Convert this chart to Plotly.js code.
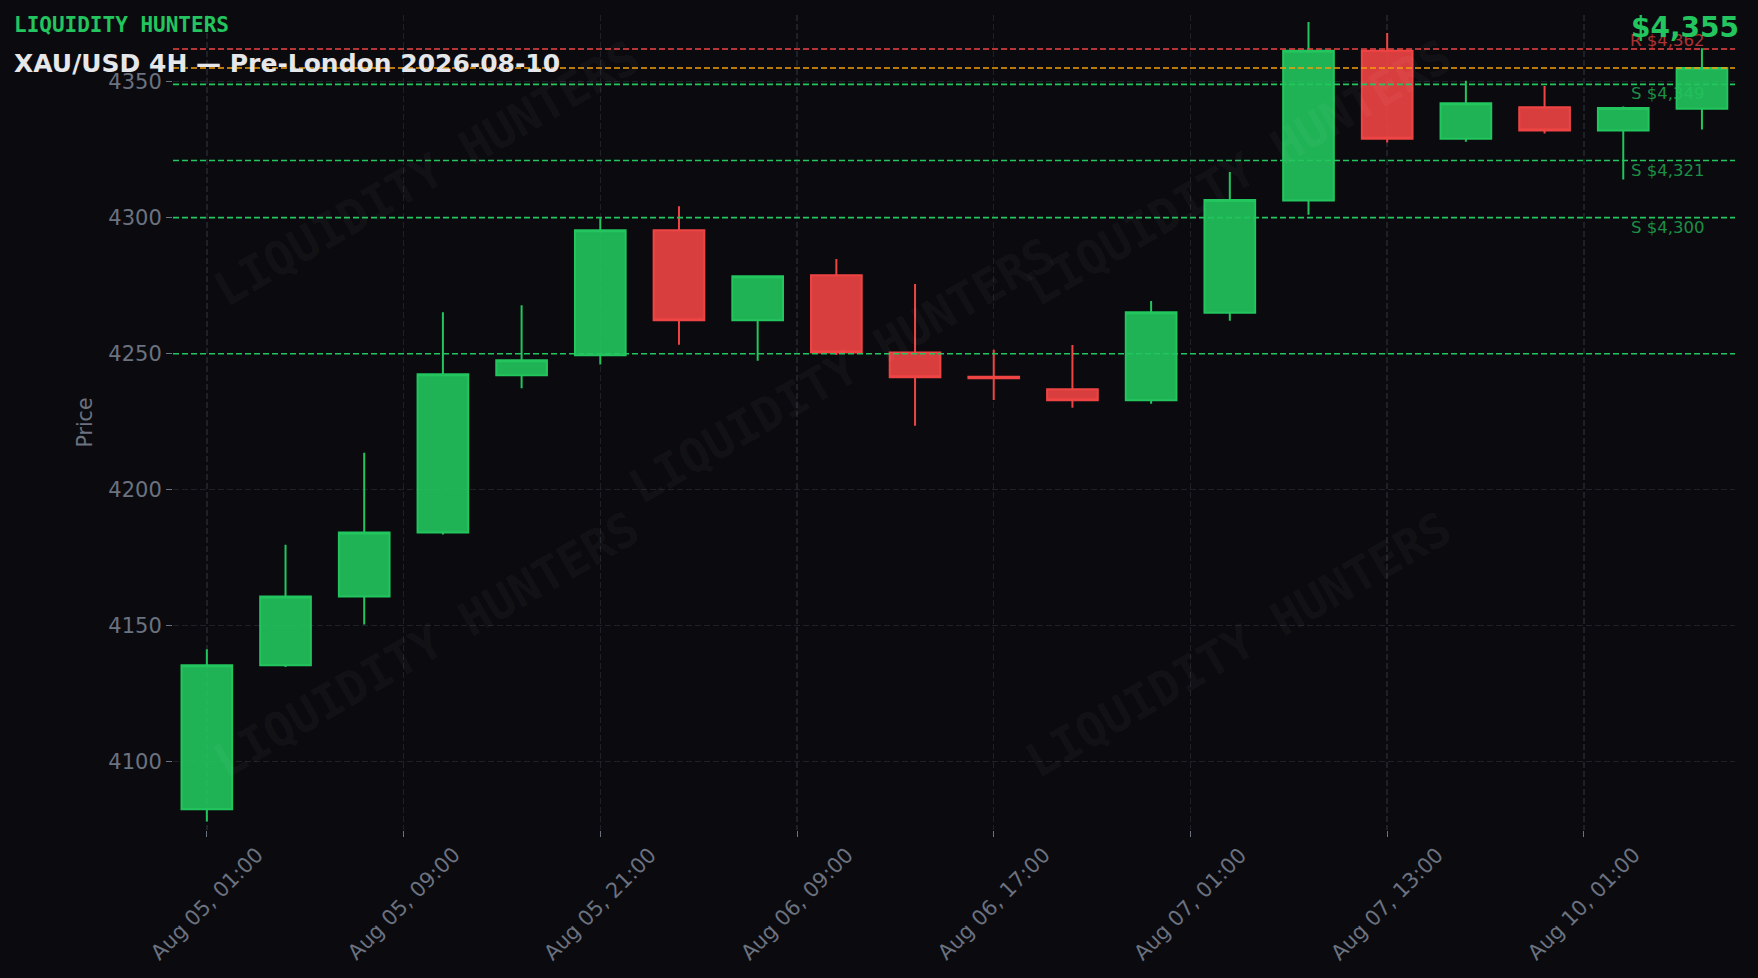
<!DOCTYPE html>
<html>
<head>
<meta charset="utf-8">
<script src="https://cdn.plot.ly/plotly-3.0.1.min.js"></script>
<style>
  html, body { margin: 0; padding: 0; background: #0b0b0f; }
  #chart { width: 1758px; height: 978px; }
</style>
</head>
<body>
<div id="chart"></div>
<script>
// ---- Data ----
const times = [
  "2026-08-05 01:00", "2026-08-05 05:00", "2026-08-05 09:00", "2026-08-05 13:00",
  "2026-08-05 17:00", "2026-08-05 21:00", "2026-08-06 01:00", "2026-08-06 05:00",
  "2026-08-06 09:00", "2026-08-06 13:00", "2026-08-06 17:00", "2026-08-06 21:00",
  "2026-08-07 01:00", "2026-08-07 05:00", "2026-08-07 09:00", "2026-08-07 13:00",
  "2026-08-07 17:00", "2026-08-07 21:00", "2026-08-10 01:00", "2026-08-10 05:00"
];
const openP  = [4082.5, 4135.5, 4160.7, 4184.3, 4242.1, 4249.4, 4295.4, 4262.3, 4278.8, 4250.4,
                4241.5, 4236.9, 4232.9, 4265.0, 4306.3, 4361.4, 4329.0, 4340.6, 4332.0, 4340.0];
const highP  = [4141.3, 4179.8, 4213.6, 4265.2, 4267.8, 4299.8, 4304.2, 4278.8, 4284.8, 4275.6,
                4251.4, 4253.2, 4269.4, 4316.8, 4371.9, 4367.9, 4350.3, 4348.4, 4340.9, 4362.3];
const lowP   = [4078.0, 4134.8, 4150.4, 4183.5, 4237.3, 4246.0, 4253.3, 4247.4, 4249.5, 4223.5,
                4233.0, 4230.1, 4231.6, 4262.1, 4301.1, 4327.6, 4327.9, 4330.9, 4314.0, 4332.4];
const closeP = [4135.5, 4160.7, 4184.3, 4242.4, 4247.6, 4295.4, 4262.3, 4278.5, 4250.4, 4241.3,
                4241.0, 4232.9, 4265.2, 4306.5, 4361.4, 4329.0, 4342.1, 4332.0, 4340.3, 4355.0];

const tickLabels = ["Aug 05, 01:00", "Aug 05, 09:00", "Aug 05, 21:00", "Aug 06, 09:00",
                    "Aug 06, 17:00", "Aug 07, 01:00", "Aug 07, 13:00", "Aug 10, 01:00"];
const tickIndex  = [0, 2.5, 5, 7.5, 10, 12.5, 15, 17.5];

const levelPrices = [4362, 4349, 4321, 4300];
const levelKinds  = ["R", "S", "S", "S"];
const extraLevels = [4250];
const currentPrice = closeP[closeP.length - 1];

const brand = "LIQUIDITY HUNTERS";
const titleText = "XAU/USD 4H — Pre-London 2026-08-10";
const watermarkSpots = [[0.162, 0.806], [0.428, 0.564], [0.682, 0.807], [0.162, 0.227], [0.682, 0.227]];

// ---- Styling ----
const BG = "#0b0b0f";
const GREEN = "#22c55e";
const RED = "#ef4444";
const ORANGE = "#f59e0b";
const GRAY = "#6b7280";
const GRID = "#1f2129";
const FONT = "DejaVu Sans";
const TICK_SIZE = 21;

const xIdx = times.map((t, i) => i);

const trace = {
  type: "candlestick",
  x: xIdx,
  open: openP, high: highP, low: lowP, close: closeP,
  text: times,
  hoverinfo: "text+y",
  increasing: { line: { color: GREEN, width: 2 }, fillcolor: "rgba(34,197,94,0.9)" },
  decreasing: { line: { color: RED, width: 2 }, fillcolor: "rgba(239,68,68,0.9)" },
  whiskerwidth: 0,
  showlegend: false
};

const fmt = v => "$" + Math.round(v).toLocaleString("en-US");

const shapes = [];
const annotations = [];

function hline(y, color) {
  shapes.push({
    type: "line", xref: "paper", x0: 0, x1: 1, yref: "y", y0: y, y1: y,
    line: { color: color, width: 1.6, dash: "6px,3px" }, layer: "above"
  });
}

levelPrices.forEach((p, i) => {
  const isR = levelKinds[i] === "R";
  hline(p, isR ? RED : GREEN);
  annotations.push({
    xref: "paper", x: 0.9817, xanchor: "right",
    yref: "y", y: p, yanchor: isR ? "bottom" : "top", yshift: isR ? -3 : 2,
    text: levelKinds[i] + " " + fmt(p), showarrow: false,
    font: { family: FONT, size: 16.5, color: isR ? "rgba(239,68,68,0.72)" : "rgba(34,197,94,0.72)" }
  });
});
extraLevels.forEach(p => hline(p, GREEN));
hline(currentPrice, ORANGE);

watermarkSpots.forEach(([wx, wy]) => {
  annotations.push({
    xref: "paper", yref: "paper", x: wx, y: wy, xanchor: "center", yanchor: "middle",
    text: "<b>" + brand + "</b>", showarrow: false, textangle: -30,
    font: { family: "DejaVu Sans Mono", size: 47, color: "rgba(255,255,255,0.045)" }
  });
});

// x tick labels, centred on their ticks and turned by 45 degrees
tickIndex.forEach((pos, i) => {
  annotations.push({
    xref: "x", x: pos, xanchor: "center",
    yref: "paper", y: -0.0908, yanchor: "middle",
    text: tickLabels[i], showarrow: false, textangle: -45,
    font: { family: FONT, size: TICK_SIZE, color: GRAY }
  });
});

annotations.push({
  xref: "paper", yref: "paper", x: -0.103, y: 0.9877, xanchor: "left", yanchor: "middle",
  text: "<b>" + brand + "</b>", showarrow: false,
  font: { family: "DejaVu Sans Mono", size: 21, color: GREEN }
});
annotations.push({
  xref: "paper", yref: "paper", x: -0.103, y: 0.9399, xanchor: "left", yanchor: "middle",
  text: "<b>" + titleText + "</b>", showarrow: false,
  font: { family: FONT, size: 25, color: "#e5e7eb" }
});
annotations.push({
  xref: "paper", yref: "paper", x: 1.0038, y: 0.9847, xanchor: "right", yanchor: "middle",
  text: "<b>" + fmt(currentPrice) + "</b>", showarrow: false,
  font: { family: FONT, size: 28, color: GREEN }
});

const layout = {
  width: 1758, height: 978,
  paper_bgcolor: BG, plot_bgcolor: BG,
  margin: { l: 173, r: 23, t: 15, b: 148 },
  font: { family: FONT, color: GRAY, size: TICK_SIZE },
  showlegend: false,
  boxgap: 0.3, boxgroupgap: 0.08,
  xaxis: {
    type: "linear",
    range: [-0.43, 19.42],
    tickmode: "array", tickvals: tickIndex,
    showticklabels: false,
    ticks: "outside", ticklen: 6, tickcolor: GRAY, tickwidth: 1,
    showgrid: true, gridcolor: GRID, griddash: "6px,3px", gridwidth: 1.5,
    zeroline: false, showline: false,
    rangeslider: { visible: false }
  },
  yaxis: {
    range: [4074.9, 4374.5],
    dtick: 50, tick0: 4000,
    tickfont: { family: FONT, size: TICK_SIZE, color: GRAY },
    ticks: "outside", ticklen: 6, tickcolor: GRAY, tickwidth: 1,
    showgrid: true, gridcolor: GRID, griddash: "6px,3px", gridwidth: 1.5,
    zeroline: false, showline: false,
    title: { text: "Price", standoff: 10, font: { family: FONT, size: 20.5, color: GRAY } }
  },
  shapes: shapes,
  annotations: annotations
};

Plotly.newPlot("chart", [trace], layout, { displayModeBar: false, staticPlot: true });
</script>
</body>
</html>
